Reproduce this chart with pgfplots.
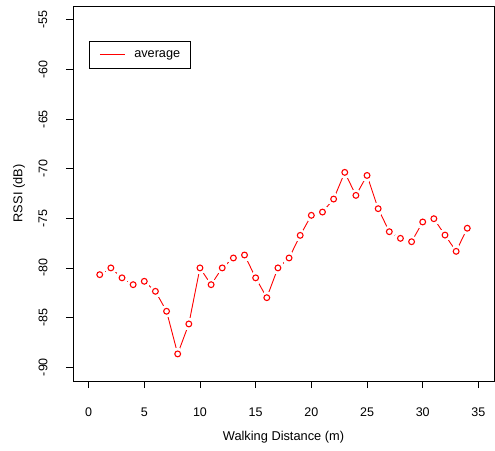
\documentclass[border=0pt]{standalone}
\usepackage{fontspec}
\setmainfont{Liberation Sans}
\usepackage{pgfplots}
\pgfplotsset{compat=1.18}
\usepackage{pgfplotstable}
\pgfplotstableread{
x y
1 -80.68
2 -80.00
3 -81.00
4 -81.69
5 -81.35
6 -82.36
7 -84.37
8 -88.67
9 -85.65
10 -80.00
11 -81.69
12 -80.00
13 -79.00
14 -78.70
15 -81.00
16 -83.00
17 -80.00
18 -79.00
19 -76.72
20 -74.70
21 -74.37
22 -73.06
23 -70.37
24 -72.69
25 -70.68
26 -74.03
27 -76.35
28 -77.02
29 -77.36
30 -75.37
31 -75.04
32 -76.69
33 -78.33
34 -76.00
}\avg
\begin{document}
\begin{tikzpicture}[font=\fontsize{12.7}{15}\selectfont]
\begin{axis}[
  at={(0pt,0pt)}, anchor=south west,
  scale only axis, width=421pt, height=375pt,
  xmin=-1.4, xmax=36.4, ymin=-91.4, ymax=-53.6,
  xtick={0,5,...,35}, ytick={-90,-85,...,-55},
  tick pos=left, tick align=outside, major tick length=7pt,
  axis line style={black, line width=0.8pt},
  every tick/.style={black, line width=0.8pt},
  /pgf/number format/assume math mode=true,
  tick label style={font=\fontsize{12.5}{15}\selectfont},
  xticklabel style={anchor=center, yshift=-24pt},
  yticklabel style={anchor=center, xshift=-23pt, rotate=90},
  xlabel={Walking Distance (m)}, ylabel={RSSI (dB)},
  label style={font=\fontsize{12.8}{15}\selectfont},
  xlabel style={at={(axis description cs:0.5,-0.1493)}, anchor=center},
  ylabel style={at={(axis description cs:-0.1283,0.5)}, anchor=center, rotate=0},
  legend style={at={(0.038,0.9075)}, anchor=north west, draw=black, line width=0.8pt,
    inner xsep=10pt, inner ysep=9.5pt, nodes={inner sep=0pt}, column sep=9pt,
    font=\fontsize{12.7}{15}\selectfont},
  legend image code/.code={\draw[#1] (0pt,0pt) -- (25pt,0pt);},
  clip=false,
]
\addplot[red, line width=0.9pt, no marks] table[x=x,y=y] {\avg};
\addlegendentry{average}
\addplot[forget plot, white, only marks, mark=*, mark size=5.8pt, mark options={draw=white, fill=white, line width=0pt}] table[x=x,y=y] {\avg};
\addplot[forget plot, red, only marks, mark=o, mark size=2.9pt, mark options={draw=red, line width=1.1pt}] table[x=x,y=y] {\avg};
\end{axis}
\pgfresetboundingbox
\path[use as bounding box] (-73pt,-69pt) rectangle (422pt,381pt);
\end{tikzpicture}
\end{document}
